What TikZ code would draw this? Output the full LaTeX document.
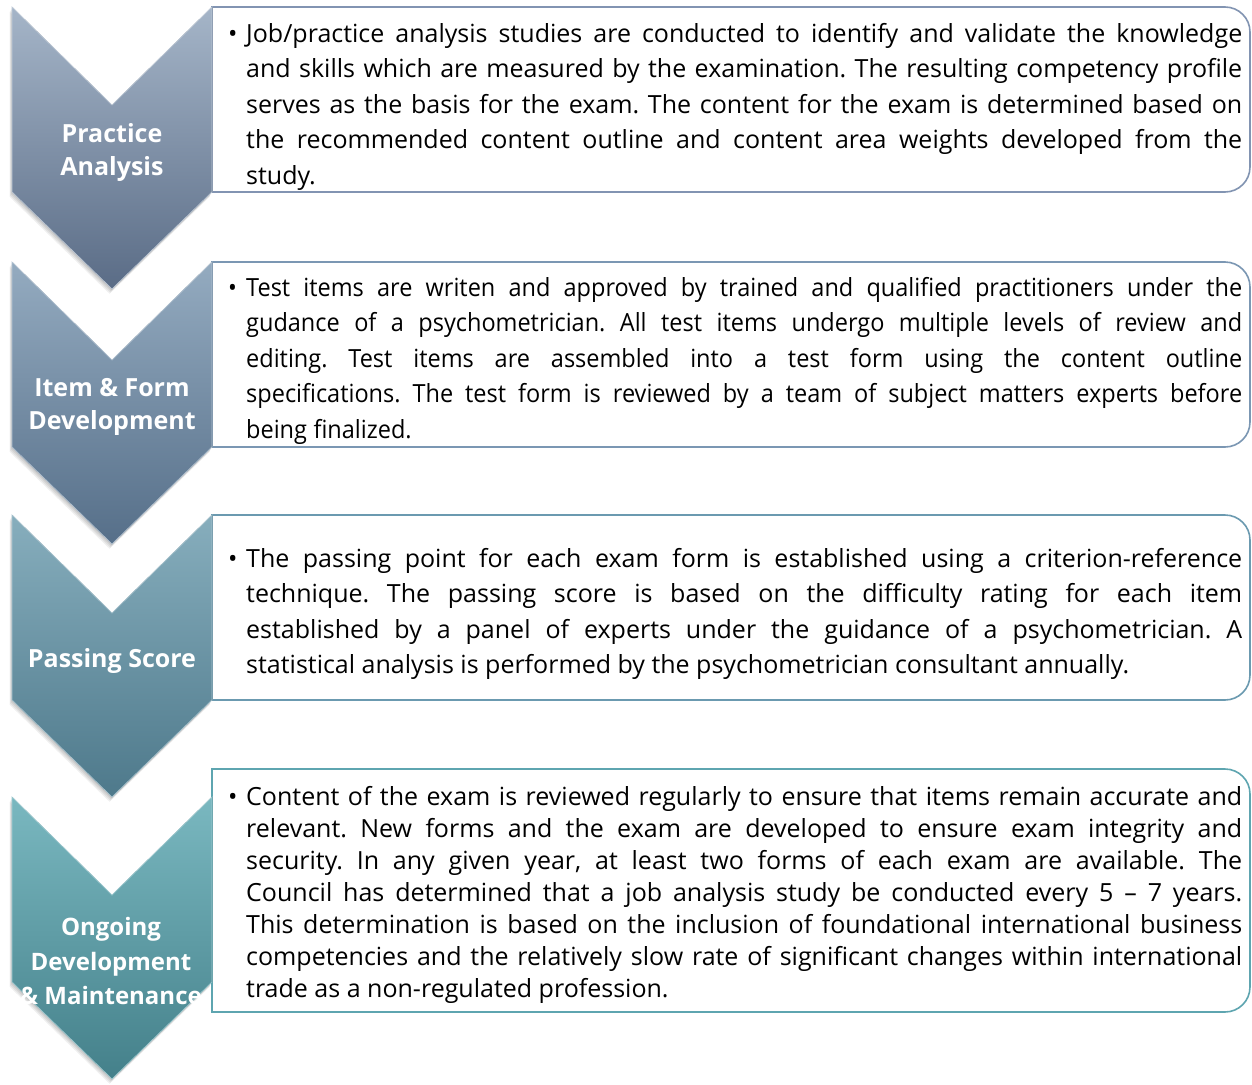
\documentclass[tikz,border=0pt]{standalone}
\usepackage{fontspec}
\setmainfont{Open Sans}
\newfontfamily\condfont[FakeStretch=0.94]{Open Sans}
\definecolor{cat}{HTML}{A5B5C8}\definecolor{cab}{HTML}{5A6C86}
\definecolor{cbt}{HTML}{94ABC0}\definecolor{cbb}{HTML}{566F89}
\definecolor{cct}{HTML}{87AEBD}\definecolor{ccb}{HTML}{4E798B}
\definecolor{cdt}{HTML}{7AB8C0}\definecolor{cdb}{HTML}{44808A}
\definecolor{ba}{HTML}{8294B2}\definecolor{bb}{HTML}{7B97B3}
\definecolor{bc}{HTML}{6B9AB0}\definecolor{bd}{HTML}{5EA5B0}
\newcommand\chev[3]{%
  \foreach \s in {1,2,3,4}{%
    \fill[black,opacity=0.06,shift={(-0.6*\s,-1.2*\s)}] (12,{-(#1)}) -- (112,{-(#1+98)}) -- (212,{-(#1)}) -- (212,{-(#1+185)}) -- (112,{-(#1+282)}) -- (12,{-(#1+185)}) -- cycle;}
  \fill[top color=#2,bottom color=#3] (12,{-(#1)}) -- (112,{-(#1+98)}) -- (212,{-(#1)}) -- (212,{-(#1+185)}) -- (112,{-(#1+282)}) -- (12,{-(#1+185)}) -- cycle;
  \draw[#2!70!white,line width=0.7pt,line join=miter] (12,{-(#1)}) -- (112,{-(#1+98)}) -- (212,{-(#1)}) -- (212,{-(#1+185)}) -- (112,{-(#1+282)}) -- (12,{-(#1+185)}) -- cycle;}
\newcommand\tbox[3]{%
  \draw[#3,line width=1.6pt,fill=white] (212,{-(#1)}) -- (1225,{-(#1)}) arc[start angle=90,end angle=0,radius=25pt] -- (1250,{-(#2)+25}) arc[start angle=0,end angle=-90,radius=25pt] -- (212,{-(#2)}) -- cycle;}
\newcommand\bul{\noindent\hangindent=18pt\hangafter=1\makebox[18pt][l]{•}}
\newcommand\txtsetup{\frenchspacing\spaceskip=0.26em plus 0.6em minus 0.1em}
\tikzset{
  txt/.style={anchor=base west,inner sep=0pt,text=black},
  lab/.style={align=center,text=white,inner sep=0pt,font=\bfseries\fontsize{25}{33}\selectfont}
}
\begin{document}
\begin{tikzpicture}[x=1pt,y=1pt]
\useasboundingbox[fill=white] (0,0) rectangle (1252,-1084);
% boxes
\tbox{7}{192}{ba}
\tbox{262}{447}{bb}
\tbox{515}{700}{bc}
\tbox{769}{1012}{bd}
% chevrons
\chev{7}{cat}{cab}
\chev{262}{cbt}{cbb}
\chev{515}{cct}{ccb}
\chev{797}{cdt}{cdb}
% labels
\node[lab] (l1) at (112,-153) {Practice\\Analysis};
\node[lab] (l2) at (112,-407) {Item \& Form\\Development};
\node[lab] (l3) at (112,-661) {Passing Score};
\node[lab,font=\bfseries\fontsize{24}{34.5}\selectfont] (l4) at (111,-961) {Ongoing\\Development\\\& Maintenance};
% texts
\node[txt] (t1) at (228,-42) {\parbox[t]{1014pt}{\fontsize{25}{35.5}\selectfont\txtsetup
\bul Job/practice analysis studies are conducted to identify and validate the knowledge\linebreak
and skills which are measured by the examination. The resulting competency profile\linebreak
serves as the basis for the exam. The content for the exam is determined based on\linebreak
the recommended content outline and content area weights developed from the\linebreak
study.}};
\node[txt] (t2) at (228,-296) {\parbox[t]{1014pt}{\condfont\fontsize{25}{35.5}\selectfont\txtsetup
\bul Test items are writen and approved by trained and qualified practitioners under the\linebreak
gudance of a psychometrician. All test items undergo multiple levels of review and\linebreak
editing. Test items are assembled into a test form using the content outline\linebreak
specifications. The test form is reviewed by a team of subject matters experts before\linebreak
being finalized.}};
\node[txt] (t3) at (228,-567) {\parbox[t]{1014pt}{\fontsize{25}{35.5}\selectfont\txtsetup
\bul The passing point for each exam form is established using a criterion-reference\linebreak
technique. The passing score is based on the difficulty rating for each item\linebreak
established by a panel of experts under the guidance of a psychometrician. A\linebreak
statistical analysis is performed by the psychometrician consultant annually.}};
\node[txt] (t4) at (228,-805) {\parbox[t]{1014pt}{\fontsize{25}{32}\selectfont\txtsetup
\bul Content of the exam is reviewed regularly to ensure that items remain accurate and\linebreak
relevant. New forms and the exam are developed to ensure exam integrity and\linebreak
security. In any given year, at least two forms of each exam are available. The\linebreak
Council has determined that a job analysis study be conducted every 5 – 7 years.\linebreak
This determination is based on the inclusion of foundational international business\linebreak
competencies and the relatively slow rate of significant changes within international\linebreak
trade as a non-regulated profession.}};
\end{tikzpicture}
\end{document}
